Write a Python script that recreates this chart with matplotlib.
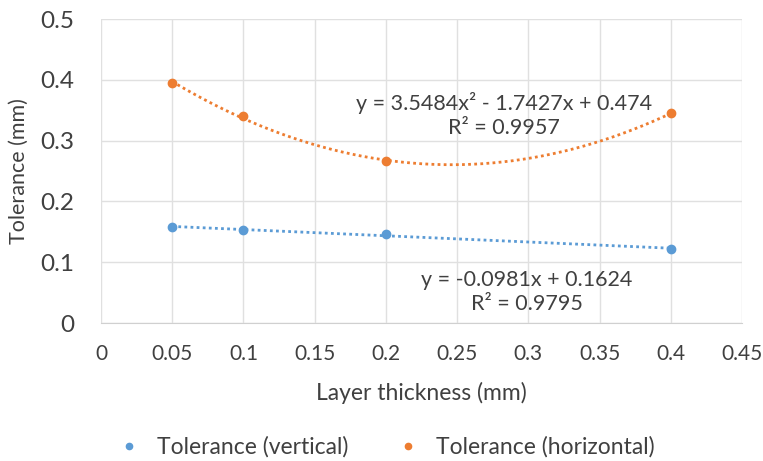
import numpy as np
import matplotlib.pyplot as plt

plt.rcParams['font.family'] = ['Lato', 'DejaVu Sans']

# data
layer_thickness = [0.05, 0.1, 0.2, 0.4]
tol_vertical = [0.158, 0.153, 0.146, 0.122]
tol_horizontal = [0.395, 0.340, 0.266, 0.345]

blue = '#5B9BD5'
orange = '#ED7D31'
text_col = '#404040'

fig = plt.figure(figsize=(7.63, 4.61), dpi=100)
ax = fig.add_axes([101 / 763, 138 / 461, 641 / 763, 304 / 461])

# trendlines (linear for vertical, quadratic for horizontal)
xs = np.linspace(min(layer_thickness), max(layer_thickness), 200)
p_v = np.polyfit(layer_thickness, tol_vertical, 1)
p_h = np.polyfit(layer_thickness, tol_horizontal, 2)
ax.plot(xs, np.polyval(p_v, xs), ls=(0, (1, 1.2)), lw=2, color=blue, zorder=2)
ax.plot(xs, np.polyval(p_h, xs), ls=(0, (1, 1.2)), lw=2, color=orange, zorder=2)

ax.plot(layer_thickness, tol_vertical, 'o', ms=6, color=blue,
        label='Tolerance (vertical)', zorder=3)
ax.plot(layer_thickness, tol_horizontal, 'o', ms=6, color=orange,
        label='Tolerance (horizontal)', zorder=3)

ax.set_xlim(0, 0.45)
ax.set_ylim(0, 0.5)
ax.set_xticks(np.arange(0, 0.451, 0.05))
ax.set_xticklabels(['0', '0.05', '0.1', '0.15', '0.2', '0.25', '0.3', '0.35', '0.4', '0.45'])
ax.set_yticks(np.arange(0, 0.51, 0.1))
ax.set_yticklabels(['0', '0.1', '0.2', '0.3', '0.4', '0.5'])
ax.tick_params(length=0, labelsize=15, colors=text_col, pad=15)
ax.tick_params(axis='y', labelsize=17.5, pad=19)
ax.grid(True, color='#e0e0e0', lw=1)
ax.set_axisbelow(True)
for s in ['top', 'right', 'left']:
    ax.spines[s].set_visible(False)
ax.spines['bottom'].set_color('#d0d0d0')

ax.set_xlabel('Layer thickness (mm)', fontsize=16.5, color=text_col)
ax.xaxis.set_label_coords(0.5, -(393 - 323) / 304, transform=ax.transAxes)
ax.xaxis.label.set_va('center')
ax.set_ylabel('Tolerance (mm)', fontsize=15.5, color=text_col)
ax.yaxis.set_label_coords(-(101 - 19) / 641, 0.5, transform=ax.transAxes)
ax.yaxis.label.set_va('center')

ax.text(0.283, 0.342, 'y = 3.5484x² - 1.7427x + 0.474\nR² = 0.9957',
        ha='center', va='center', fontsize=15.5, color=text_col, linespacing=1.2)
ax.text(0.299, 0.051, 'y = -0.0981x + 0.1624\nR² = 0.9795',
        ha='center', va='center', fontsize=15.5, color=text_col, linespacing=1.2)

fig.legend(loc='center', bbox_to_anchor=(386 / 763, 1 - 447 / 461), ncol=2, frameon=False,
           fontsize=16.5, markerscale=0.75, handlelength=1.0, handletextpad=0.72,
           columnspacing=2.07, labelcolor=text_col, borderpad=0, borderaxespad=0)

fig.savefig('out.png', dpi=100)
